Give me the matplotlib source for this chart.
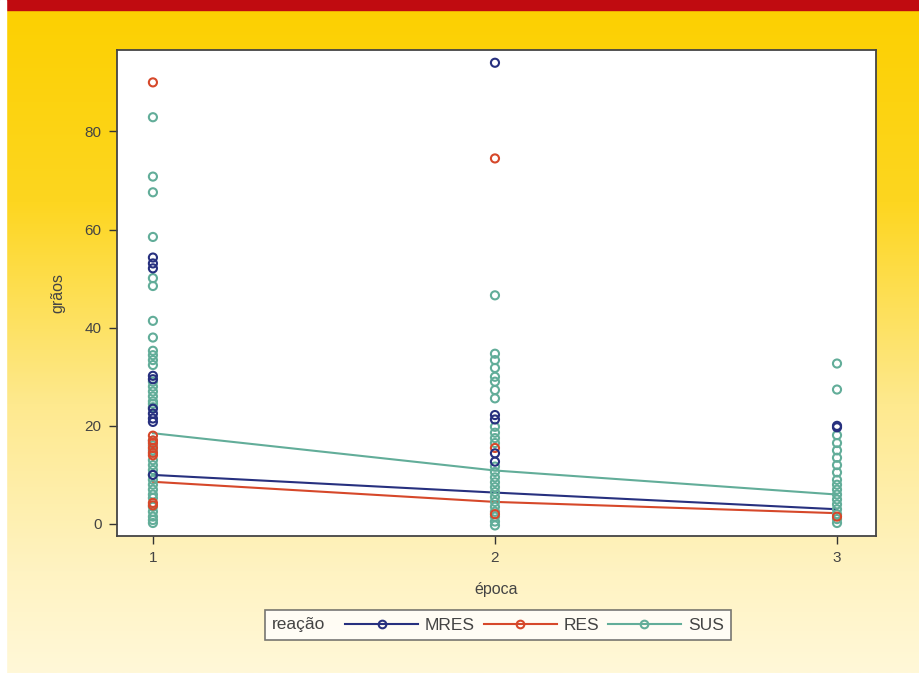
import numpy as np
import matplotlib.pyplot as plt
from matplotlib.lines import Line2D
from matplotlib.offsetbox import HPacker
from matplotlib.colors import LinearSegmentedColormap

plt.rcParams['font.family'] = ['Liberation Sans', 'DejaVu Sans']

# valores (grãos por época e reação)
sus_1 = [82.9, 70.8, 67.6, 58.5, 50.1, 48.5, 41.4, 38.0, 35.3, 34.4, 33.4, 32.4, 29.0, 28.0,
         27.0, 26.0, 25.0, 24.5, 23.8, 17.0, 16.0, 15.0, 13.0, 12.0, 11.0, 10.0, 9.0, 8.0,
         7.0, 6.0, 5.3, 3.5, 2.5, 1.5, 0.8, 0.2]
mres_1 = [54.3, 53.1, 52.1, 30.2, 29.5, 23.5, 22.5, 21.5, 20.8, 10.0]
res_1 = [90.0, 18.0, 17.0, 16.5, 15.5, 14.5, 14.0, 4.3, 3.8]

sus_2 = [46.6, 34.7, 33.4, 31.8, 30.0, 29.0, 27.3, 25.6, 19.8, 18.6, 17.5, 16.5, 11.7, 10.6,
         9.5, 8.5, 7.5, 6.5, 5.5, 4.5, 3.5, 2.5, 1.5, 0.5, -0.3]
mres_2 = [94.0, 22.2, 21.3, 14.4, 12.7]
res_2 = [74.5, 15.5, 2.0]

sus_3 = [32.7, 27.4, 18.1, 16.5, 15.0, 13.5, 12.0, 10.5, 9.0, 8.0, 7.0, 6.0, 5.0, 4.0,
         3.0, 2.0, 1.0, 0.2]
mres_3 = [20.0, 19.7]
res_3 = [1.5]

epocas = [1, 2, 3]
sus_fit = [18.5, 10.9, 6.0]
mres_fit = [10.0, 6.4, 3.0]
res_fit = [8.6, 4.5, 2.2]

c_mres = '#27307f'
c_res = '#d6482a'
c_sus = '#62ad99'

fig = plt.figure(figsize=(9.19, 6.73), dpi=100)

# fundo amarelo em degrade + faixa vermelha
bg = fig.add_axes([0, 0, 1, 1], zorder=-10)
cmap = LinearSegmentedColormap.from_list('bg', [(0, '#fcd000'), (0.3, '#fdd620'),
                                                (0.6, '#fee98e'), (0.85, '#fff3c2'),
                                                (1, '#fff8d8')])
grad = np.linspace(0, 1, 256).reshape(-1, 1)
bg.imshow(grad, aspect='auto', cmap=cmap, extent=[0, 1, 0, 1], origin='upper')
bg.axhspan(1 - 10 / 673, 1, color='#c00b10')
bg.axvspan(0, 6 / 919, color='white')
bg.set_xlim(0, 1)
bg.set_ylim(0, 1)
bg.axis('off')

ax = fig.add_axes([117 / 919, 1 - 536 / 673, (876 - 117) / 919, (536 - 50) / 673])
ax.set_facecolor('white')

def pts(vals_by_ep, color):
    for ep, vals in zip(epocas, vals_by_ep):
        ax.scatter([ep] * len(vals), vals, s=34, facecolors='none', edgecolors=color,
                   linewidths=1.5, zorder=3)

pts([sus_1, sus_2, sus_3], c_sus)
pts([res_1, res_2, res_3], c_res)
pts([mres_1, mres_2, mres_3], c_mres)

ax.plot(epocas, sus_fit, color=c_sus, lw=1.5, zorder=2)
ax.plot(epocas, mres_fit, color=c_mres, lw=1.5, zorder=2)
ax.plot(epocas, res_fit, color=c_res, lw=1.5, zorder=2)

ax.set_xlim(0.895, 3.114)
ax.set_ylim(-2.45, 96.6)
ax.set_xticks([1, 2, 3])
ax.set_yticks([0, 20, 40, 60, 80])
ax.tick_params(direction='out', length=6, width=1, color='#333333', labelsize=11,
               labelcolor='#444444', pad=5)
for s in ax.spines.values():
    s.set_color('#444444')
    s.set_linewidth(1.3)
ax.set_xlabel('época', fontsize=11.5, color='#444444', labelpad=12)
ax.set_ylabel('grãos', fontsize=11.5, color='#444444', labelpad=14)

handles = [Line2D([], [], color=c, lw=1.5, marker='o', markersize=5.5, markerfacecolor='none',
                  markeredgewidth=1.5) for c in (c_mres, c_res, c_sus)]
leg = fig.legend(handles, ['MRES', 'RES', 'SUS'], title='reação', ncol=3,
                 loc='center', bbox_to_anchor=(498 / 919, 1 - 625 / 673),
                 fontsize=12.5, title_fontsize=12.5, frameon=True, fancybox=False,
                 handlelength=4.2, handletextpad=0.4, columnspacing=0.5,
                 borderpad=0.4, edgecolor='#555555')
leg.get_frame().set_linewidth(1.2)
leg.get_frame().set_facecolor('white')
for t in leg.get_texts():
    t.set_color('#444444')
leg.get_title().set_color('#444444')
leg._legend_box.__class__ = HPacker
leg._legend_box.sep = 14
leg._legend_box.align = 'center'

fig.savefig('out.png', dpi=100)
